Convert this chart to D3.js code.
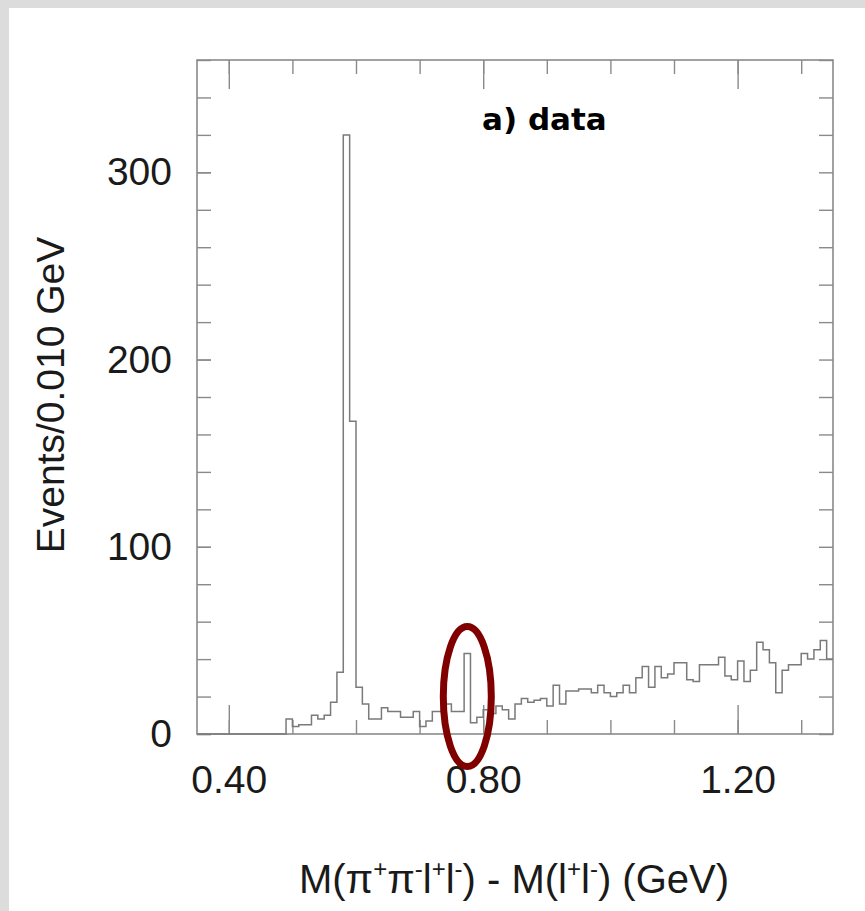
<!DOCTYPE html>
<html>
<head>
<meta charset="utf-8">
<script src="https://cdn.jsdelivr.net/npm/d3@7"></script>
<style>
  html, body { margin: 0; padding: 0; background: #dcdcdc; }
  svg { display: block; }
</style>
</head>
<body>
<script>
// ---- data ----
const binStart = 0.35;
const binWidth = 0.010;
const counts = [
  0, 0, 0, 0, 0, 0, 0, 0, 0, 0, 0, 0, 0, 0,
  8, 4, 5, 5, 10, 8, 10, 17, 33, 320, 167, 25, 16, 8, 8, 14,
  12, 12, 9, 9, 12, 4, 7, 12, 12, 16, 12, 12, 43, 6, 9, 13,
  11, 15, 13, 8, 16, 19, 17, 18, 19, 15, 26, 16, 23, 23, 24, 24,
  22, 26, 22, 20, 22, 26, 22, 30, 36, 25, 36, 30, 32, 38, 38, 29,
  28, 37, 37, 37, 41, 31, 29, 39, 28, 34, 49, 45, 38, 22, 34, 37,
  37, 43, 40, 45, 50, 40
];
const xDomain = [0.35, 1.35];
const yDomain = [0, 360];
const xMinorTicks = [0.4, 0.5, 0.6, 0.7, 0.8, 0.9, 1.0, 1.1, 1.2, 1.3];
const xMajorTicks = [0.4, 0.8, 1.2];
const xTickLabels = ["0.40", "0.80", "1.20"];
const yMinorTicks = d3.range(0, 361, 20);
const yMajorTicks = [0, 100, 200, 300];
const yTickLabels = ["0", "100", "200", "300"];
const highlightBin = 0.775;   // annotated bin centre
const highlightLevel = 20;    // vertical centre of annotation
const panelLabel = "a) data";
const yTitle = "Events/0.010 GeV";

// ---- layout ----
const W = 865, H = 911;
const pLeft = 197, pRight = 833, pTop = 60, pBottom = 734;
const minorLen = 14, majorLen = 29;
const fontFam = "'Liberation Sans', Arial, Helvetica, sans-serif";
const frameColor = "#8a8a8a";

const svg = d3.select("body").append("svg").attr("width", W).attr("height", H);
svg.append("rect").attr("x", 0).attr("y", 0).attr("width", W).attr("height", H).attr("fill", "#dcdcdc");
svg.append("rect").attr("x", 9).attr("y", 8).attr("width", W - 9).attr("height", H - 8).attr("fill", "#ffffff");

const x = d3.scaleLinear().domain(xDomain).range([pLeft, pRight]);
const y = d3.scaleLinear().domain(yDomain).range([pBottom, pTop]);

function styleAxis(g) {
  g.select(".domain").remove();
  g.selectAll(".tick line").attr("stroke", frameColor).attr("stroke-width", 1.4);
  g.selectAll(".tick text").attr("font-family", fontFam).attr("font-size", 39).attr("fill", "#1a1a1a");
}

// minor ticks on all sides (inward)
svg.append("g").attr("transform", `translate(0,${pBottom})`)
  .call(d3.axisBottom(x).tickValues(xMinorTicks).tickSize(-minorLen).tickFormat("")).call(styleAxis);
svg.append("g").attr("transform", `translate(0,${pTop})`)
  .call(d3.axisTop(x).tickValues(xMinorTicks).tickSize(-minorLen).tickFormat("")).call(styleAxis);
svg.append("g").attr("transform", `translate(${pLeft},0)`)
  .call(d3.axisLeft(y).tickValues(yMinorTicks).tickSize(-minorLen).tickFormat("")).call(styleAxis);
svg.append("g").attr("transform", `translate(${pRight},0)`)
  .call(d3.axisRight(y).tickValues(yMinorTicks).tickSize(-minorLen).tickFormat("")).call(styleAxis);

// major ticks with labels
svg.append("g").attr("transform", `translate(0,${pBottom})`)
  .call(d3.axisBottom(x).tickValues(xMajorTicks).tickSize(-majorLen).tickPadding(31)
    .tickFormat((d, i) => xTickLabels[i])).call(styleAxis);
svg.append("g").attr("transform", `translate(0,${pTop})`)
  .call(d3.axisTop(x).tickValues(xMajorTicks).tickSize(-majorLen).tickFormat("")).call(styleAxis);
svg.append("g").attr("transform", `translate(${pLeft},0)`)
  .call(d3.axisLeft(y).tickValues(yMajorTicks).tickSize(-minorLen).tickPadding(25)
    .tickFormat((d, i) => yTickLabels[i])).call(styleAxis);

// frame
svg.append("rect").attr("x", pLeft).attr("y", pTop).attr("width", pRight - pLeft).attr("height", pBottom - pTop)
  .attr("fill", "none").attr("stroke", frameColor).attr("stroke-width", 1.6);

// histogram (step outline)
const pts = counts.map((c, i) => [binStart + i * binWidth, c]);
pts.push([binStart + counts.length * binWidth, counts[counts.length - 1]]);
const line = d3.line().x(d => x(d[0])).y(d => y(d[1])).curve(d3.curveStepAfter);
svg.append("path").attr("d", line(pts)).attr("fill", "none")
  .attr("stroke", "#7a7a7a").attr("stroke-width", 1.5);

// panel label
svg.append("text").attr("x", 482).attr("y", 130)
  .attr("font-family", "'DejaVu Sans', sans-serif").attr("font-weight", "bold")
  .attr("font-size", 31).attr("fill", "#000").text(panelLabel);

// y title
svg.append("text").attr("transform", `translate(64,395) rotate(-90)`)
  .attr("text-anchor", "middle").attr("font-family", fontFam).attr("font-size", 39)
  .attr("fill", "#1a1a1a").text(yTitle);

// x title with superscripts
const xt = svg.append("text").attr("x", 514).attr("y", 893).attr("text-anchor", "middle")
  .attr("font-family", fontFam).attr("font-size", 40).attr("fill", "#1a1a1a");
const parts = [
  ["M(π", false], ["+", true], ["π", false], ["-", true], ["l", false], ["+", true],
  ["l", false], ["-", true], [") - M(l", false], ["+", true], ["l", false], ["-", true], [") (GeV)", false]
];
parts.forEach(([t, sup]) => {
  const ts = xt.append("tspan").text(t);
  if (sup) ts.attr("font-size", 24).attr("baseline-shift", "65%");
});

// annotation ellipse
svg.append("ellipse").attr("cx", x(highlightBin)).attr("cy", y(highlightLevel))
  .attr("rx", 24).attr("ry", 70).attr("fill", "none")
  .attr("stroke", "#800000").attr("stroke-width", 7);
</script>
</body>
</html>
